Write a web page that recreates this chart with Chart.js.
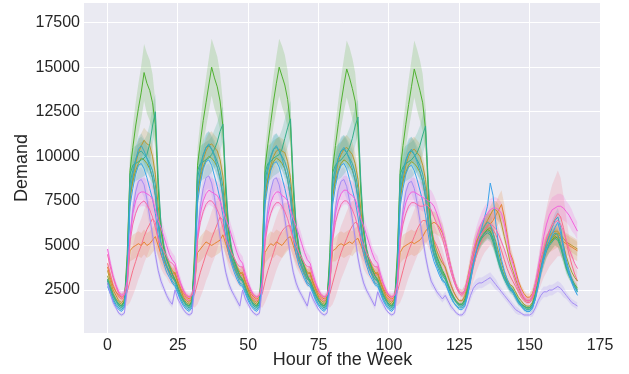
<!DOCTYPE html>
<html>
<head>
<meta charset="utf-8">
<script src="https://cdn.jsdelivr.net/npm/chart.js@4.4.1/dist/chart.umd.min.js"></script>
<style>
  html, body { margin: 0; padding: 0; background: #fff; }
  canvas { display: block; }
</style>
</head>
<body>
<canvas id="demandChart" width="629" height="374"></canvas>
<script>
// hour of week 0..167 (Mon 00h .. Sun 23h)
var hours = [];
for (var h = 0; h < 168; h++) hours.push(h);
var xTicks = [0, 25, 50, 75, 100, 125, 150, 175];
var yTicks = [2500, 5000, 7500, 10000, 12500, 15000, 17500];

// demand per zone, in hundreds, one row per day
var red = [
  40,34,28,24,21,20,21,24,30,36,41,46,50,55,59,62,65,63,53,45,41,38,35,33,
  34,29,25,22,20,19,20,23,29,35,40,45,49,54,58,62,66,64,54,46,41,38,35,32,
  34,29,25,22,20,19,20,23,30,36,41,46,51,55,58,60,61,61,53,46,42,38,35,32,
  33,29,25,22,20,19,20,23,29,35,41,46,50,54,58,61,63,62,53,45,41,38,35,33,
  34,29,25,22,20,19,20,24,30,36,42,47,51,55,59,62,64,64,60,56,53,50,46,42,
  37,32,28,24,21,19,19,21,25,31,38,44,49,53,56,58,60,59,56,52,47,42,37,33,
  30,27,24,21,19,18,18,20,25,32,40,47,53,58,62,65,68,66,60,52,45,39,34,30
];
var orange = [
  38,32,27,24,22,21,22,30,47,49,50,51,50,52,50,51,53,55,50,45,41,38,36,34,
  35,30,26,23,21,20,21,29,46,48,50,52,51,50,51,52,53,56,51,46,42,39,36,34,
  35,30,26,23,21,20,21,29,46,49,51,50,52,51,50,52,54,55,50,45,41,38,36,34,
  35,30,26,23,21,20,21,30,47,48,50,51,50,51,52,51,53,54,50,46,42,39,36,34,
  35,30,26,23,21,20,21,29,46,49,50,51,52,51,52,53,55,58,60,62,63,62,60,57,
  52,45,38,32,27,24,23,25,32,40,47,52,55,57,59,61,62,64,67,70,73,66,56,46,
  42,36,30,26,23,21,21,23,28,35,42,47,50,52,53,54,55,54,52,51,50,49,48,47
];
var olive = [
  36,30,25,22,19,18,20,38,75,88,96,102,106,109,107,106,100,90,72,58,49,43,39,36,
  34,29,25,21,19,18,20,39,77,90,98,103,106,107,105,103,98,89,71,57,48,42,38,35,
  34,29,25,21,19,18,20,38,76,88,95,100,103,104,103,102,97,88,71,57,48,42,38,35,
  34,29,25,21,19,18,20,38,76,89,97,101,104,105,103,101,96,87,70,57,48,42,38,35,
  34,29,25,21,19,18,20,38,75,87,95,100,103,104,102,100,95,87,72,60,52,47,43,40,
  38,33,28,24,21,19,19,22,28,36,44,50,55,58,61,64,67,70,70,68,62,55,48,41,
  36,31,27,23,20,19,19,21,27,34,41,47,52,55,57,58,58,56,54,52,51,50,49,48
];
var lime = [
  33,28,23,20,18,17,18,36,78,86,92,96,99,98,96,93,88,78,62,50,43,38,35,32,
  31,27,23,20,18,17,18,37,80,88,94,98,100,99,97,94,88,78,61,50,43,38,34,31,
  31,27,23,20,18,17,18,36,79,87,93,97,99,98,96,93,87,77,61,50,43,38,34,31,
  31,27,23,20,18,17,18,36,78,86,92,96,98,97,95,92,87,77,61,49,42,37,34,31,
  31,27,23,20,18,17,18,36,78,86,91,95,97,96,94,91,86,77,62,51,45,40,37,34,
  32,28,24,21,19,17,17,19,25,33,41,47,52,55,57,59,60,57,52,46,40,35,31,28,
  27,24,21,19,17,16,16,18,23,30,38,44,49,52,54,56,57,55,50,44,39,35,32,30
];
var green = [
  31,26,22,19,17,16,19,45,92,105,117,127,136,147,141,137,130,118,82,60,48,42,38,34,
  31,26,22,19,17,16,19,48,95,108,120,130,140,150,144,139,131,117,80,59,47,41,37,33,
  31,26,22,19,17,16,19,47,94,107,119,131,141,150,145,140,132,118,81,60,48,42,38,33,
  30,26,22,19,17,16,19,46,93,106,118,130,140,149,144,138,131,116,80,59,47,41,37,33,
  31,26,22,19,17,16,19,46,92,106,118,129,139,149,143,137,130,115,79,60,49,44,40,36,
  33,28,24,21,18,17,17,20,26,34,42,48,52,55,57,59,58,54,48,42,37,33,30,27,
  25,22,19,17,16,15,15,17,22,29,37,43,48,51,53,55,54,50,44,38,34,31,28,26
];
var seagreen = [
  30,26,22,19,17,16,18,40,90,95,96,97,98,99,101,107,117,125,88,62,50,43,38,34,
  30,26,22,19,17,16,18,42,92,96,97,98,99,101,104,108,114,118,86,61,49,42,37,33,
  30,26,22,19,17,16,18,41,91,96,97,99,100,101,104,110,116,121,87,61,49,42,37,33,
  29,25,22,19,17,16,18,41,91,95,97,98,100,102,105,110,117,122,86,60,48,41,36,33,
  30,26,22,19,17,16,18,40,90,94,96,97,98,100,102,106,112,117,84,60,49,43,39,35,
  32,28,24,21,18,17,17,19,25,33,41,47,51,54,56,57,56,52,46,40,35,31,28,26,
  24,21,19,17,16,15,15,17,22,29,36,42,47,50,52,54,53,49,43,37,33,30,27,25
];
var teal = [
  31,26,22,19,16,15,17,35,85,92,98,102,103,101,99,96,92,84,66,52,44,39,35,32,
  30,26,22,19,16,15,17,36,88,95,101,105,106,104,101,97,92,83,65,52,44,39,35,31,
  30,26,22,19,16,15,17,36,87,94,100,104,105,103,100,97,92,83,65,52,44,39,35,31,
  30,26,22,19,16,15,17,35,86,93,99,103,104,102,99,96,91,82,64,51,43,38,34,31,
  30,26,22,19,16,15,17,35,85,92,98,102,103,101,98,95,90,82,66,53,46,41,37,33,
  31,27,23,20,18,16,16,18,24,32,40,47,52,55,57,58,57,53,47,41,36,32,29,26,
  25,22,19,17,15,14,14,16,21,28,36,43,48,52,55,57,56,51,45,39,34,30,27,24
];
var cyan = [
  29,24,20,17,15,14,16,32,80,90,98,104,106,103,99,94,88,78,62,50,43,38,34,30,
  28,24,20,17,15,14,16,33,82,92,100,105,107,104,100,94,87,77,61,49,42,37,33,29,
  28,24,20,17,15,14,16,33,82,92,99,104,106,103,99,93,87,77,61,49,42,37,33,29,
  28,24,20,17,15,14,16,32,81,91,99,103,105,102,98,93,86,76,60,49,42,37,33,29,
  28,24,20,17,15,14,16,32,80,90,97,102,104,101,97,92,86,77,62,51,44,39,35,31,
  29,25,21,18,16,15,15,17,23,31,40,48,54,58,61,63,62,57,50,43,37,32,28,25,
  24,21,18,16,14,13,13,15,20,28,37,45,51,56,60,64,66,60,50,42,36,31,27,24
];
var blue = [
  27,23,19,16,14,13,15,30,72,82,90,95,96,93,88,82,76,68,56,46,40,35,32,29,
  27,23,19,16,14,13,15,31,74,85,93,97,98,95,89,83,76,67,55,46,40,35,31,28,
  27,23,19,16,14,13,15,31,73,84,92,96,97,94,88,82,75,67,55,45,39,35,31,28,
  27,23,19,16,14,13,15,30,73,83,91,95,96,93,87,81,75,66,54,45,39,34,31,28,
  27,23,19,16,14,13,15,30,72,82,90,94,95,92,87,81,75,67,56,47,41,37,33,30,
  29,25,21,18,16,14,14,16,22,30,39,47,54,60,66,72,85,78,62,50,42,36,31,27,
  24,21,18,16,14,13,13,15,20,27,35,42,48,52,56,60,63,57,48,40,34,29,25,22
];
var lavender = [
  29,23,18,15,12,11,12,25,55,70,80,86,87,84,76,66,56,45,36,30,26,22,19,17,
  25,20,17,14,12,11,12,26,57,72,82,88,89,85,77,66,55,44,35,29,25,22,19,16,
  25,20,17,14,12,11,12,26,56,71,81,87,88,84,76,65,55,44,35,29,25,22,19,16,
  24,20,17,14,12,11,12,25,56,71,81,86,87,83,75,65,54,43,35,29,25,22,19,16,
  24,20,17,14,12,11,12,25,55,70,80,85,86,82,74,64,54,44,36,30,27,24,22,20,
  22,19,16,14,12,11,11,13,17,22,26,28,29,29,30,31,32,30,28,26,24,22,20,18,
  16,14,13,12,11,11,11,12,15,19,22,24,24,25,25,26,27,26,24,22,20,18,17,16
];
var magenta = [
  48,40,33,28,24,22,23,30,55,68,75,79,80,80,79,78,76,70,64,60,55,50,45,42,
  40,34,29,25,22,21,22,29,54,68,75,79,81,80,79,78,75,70,65,61,56,51,46,42,
  40,34,29,25,22,21,22,29,54,67,74,78,80,80,78,77,75,70,65,61,56,51,46,42,
  40,34,29,25,22,21,22,29,55,68,75,79,81,81,79,78,76,71,65,61,56,51,46,42,
  40,34,29,25,22,21,22,29,54,67,74,78,80,80,79,78,77,76,75,74,72,68,63,58,
  52,45,38,32,27,24,23,25,31,39,47,54,59,63,66,68,70,71,71,70,68,62,54,45,
  40,34,28,24,21,19,19,22,28,37,46,55,62,67,70,71,72,72,71,69,67,64,61,58
];
var pink = [
  45,38,32,27,23,21,22,28,52,62,68,72,74,75,73,70,66,60,54,50,47,44,41,40,
  38,32,28,24,22,21,22,28,53,63,69,73,75,75,73,70,66,60,54,50,46,43,40,38,
  38,32,28,24,22,21,22,28,52,62,68,72,74,74,72,69,65,59,54,50,46,43,40,38,
  38,32,28,24,22,21,22,28,53,63,69,73,75,75,73,70,66,60,54,50,46,43,40,38,
  38,32,28,24,22,21,22,28,52,62,68,72,74,74,73,72,72,73,72,70,66,62,58,54,
  48,41,35,30,26,23,22,24,29,36,43,49,54,57,59,61,62,61,59,56,52,48,43,38,
  34,29,25,22,20,19,19,21,26,33,41,48,54,58,61,63,64,62,58,53,48,44,40,37
];

// half width of the confidence band, in hundreds
var redBand = [
  5,5,4,4,3,3,4,8,12,14,15,15,15,15,15,14,13,12,10,8,7,6,6,5,
  5,5,4,4,3,3,4,8,12,14,15,15,15,15,15,14,13,12,10,8,7,6,6,5,
  5,5,4,4,3,3,4,8,12,14,15,15,15,15,15,14,13,12,10,8,7,6,6,5,
  5,5,4,4,3,3,4,8,12,14,15,15,15,15,15,14,13,12,10,8,7,6,6,5,
  5,5,4,4,3,3,4,8,12,14,15,15,15,15,15,14,13,12,11,10,9,8,7,6,
  5,4,4,3,3,3,3,4,5,7,8,9,10,10,10,10,10,10,9,8,7,6,5,5,
  4,4,3,3,3,3,3,4,6,9,12,15,18,20,22,23,24,22,18,14,10,8,6,5
];
var orangeBand = [
  3,3,2,2,2,2,2,4,6,7,7,7,7,7,7,7,7,7,6,5,4,4,3,3,
  3,3,2,2,2,2,2,4,6,7,7,7,7,7,7,7,7,7,6,5,4,4,3,3,
  3,3,2,2,2,2,2,4,6,7,7,7,7,7,7,7,7,7,6,5,4,4,3,3,
  3,3,2,2,2,2,2,4,6,7,7,7,7,7,7,7,7,7,6,5,4,4,3,3,
  3,3,2,2,2,2,2,4,6,7,7,7,7,7,7,7,7,7,7,7,6,6,5,5,
  4,3,3,2,2,2,2,3,4,5,6,6,6,6,6,6,6,7,7,8,8,7,6,5,
  3,3,2,2,2,2,2,3,4,5,5,6,6,6,6,6,6,6,6,6,6,6,6,6
];
var oliveBand = [
  2,2,2,1,1,1,2,3,6,7,7,7,7,7,7,7,6,6,5,4,3,2,2,2,
  2,2,2,1,1,1,2,3,6,7,7,7,7,7,7,7,6,6,5,4,3,2,2,2,
  2,2,2,1,1,1,2,3,6,7,7,7,7,7,7,7,6,6,5,4,3,2,2,2,
  2,2,2,1,1,1,2,3,6,7,7,7,7,7,7,7,6,6,5,4,3,2,2,2,
  2,2,2,1,1,1,2,3,6,7,7,7,7,7,7,7,6,6,5,4,3,2,2,2,
  2,2,2,1,1,1,1,2,3,3,4,4,4,4,4,4,5,5,5,5,4,3,2,2,
  2,2,2,1,1,1,1,2,3,3,4,4,4,4,4,4,4,4,4,4,4,4,4,4
];
var greenBand = [
  2,2,2,2,1,1,2,5,10,12,13,14,15,16,17,17,16,13,8,5,4,3,3,2,
  2,2,2,2,1,1,2,5,10,12,13,14,15,16,17,17,16,13,8,5,4,3,3,2,
  2,2,2,2,1,1,2,5,10,12,13,14,15,16,17,17,16,13,8,5,4,3,3,2,
  2,2,2,2,1,1,2,5,10,12,13,14,15,16,17,17,16,13,8,5,4,3,3,2,
  2,2,2,2,1,1,2,5,10,12,13,14,15,16,17,17,16,13,8,5,4,3,3,2,
  2,2,2,2,1,1,1,2,3,4,4,5,5,5,5,5,5,5,4,3,3,2,2,2,
  2,2,2,2,1,1,1,2,3,4,4,5,5,5,5,5,5,5,4,3,3,2,2,2
];
var seaBand = [
  2,2,2,2,1,1,2,4,9,10,10,10,10,10,11,11,11,10,7,4,3,3,2,2,
  2,2,2,2,1,1,2,4,9,10,10,10,10,10,11,11,11,10,7,4,3,3,2,2,
  2,2,2,2,1,1,2,4,9,10,10,10,10,10,11,11,11,10,7,4,3,3,2,2,
  2,2,2,2,1,1,2,4,9,10,10,10,10,10,11,11,11,10,7,4,3,3,2,2,
  2,2,2,2,1,1,2,4,9,10,10,10,10,10,11,11,11,10,7,4,3,3,2,2,
  2,2,2,1,1,1,1,2,3,3,4,4,4,4,4,4,4,4,3,3,2,2,2,2,
  2,2,2,1,1,1,1,2,3,3,4,4,4,4,4,4,4,4,3,3,2,2,2,2
];
var tealBand = [
  2,2,2,1,1,1,2,3,7,8,8,8,8,8,8,8,7,7,5,4,3,2,2,2,
  2,2,2,1,1,1,2,3,7,8,8,8,8,8,8,8,7,7,5,4,3,2,2,2,
  2,2,2,1,1,1,2,3,7,8,8,8,8,8,8,8,7,7,5,4,3,2,2,2,
  2,2,2,1,1,1,2,3,7,8,8,8,8,8,8,8,7,7,5,4,3,2,2,2,
  2,2,2,1,1,1,2,3,7,8,8,8,8,8,8,8,7,7,5,4,3,2,2,2,
  2,2,2,1,1,1,1,2,3,3,4,4,4,4,4,4,4,4,3,3,2,2,2,2,
  2,2,2,1,1,1,1,2,3,3,4,4,4,4,4,4,4,4,3,3,2,2,2,2
];
var cyanBand = [
  2,2,2,1,1,1,1,3,6,7,7,7,7,7,7,6,6,5,4,3,2,2,2,2,
  2,2,2,1,1,1,1,3,6,7,7,7,7,7,7,6,6,5,4,3,2,2,2,2,
  2,2,2,1,1,1,1,3,6,7,7,7,7,7,7,6,6,5,4,3,2,2,2,2,
  2,2,2,1,1,1,1,3,6,7,7,7,7,7,7,6,6,5,4,3,2,2,2,2,
  2,2,2,1,1,1,1,3,6,7,7,7,7,7,7,6,6,5,4,3,2,2,2,2,
  2,2,2,1,1,1,1,2,2,3,3,4,4,4,5,5,6,6,5,4,3,2,2,2,
  2,2,2,1,1,1,1,2,2,3,3,4,4,4,4,4,5,5,4,3,3,2,2,2
];
var lavenderBand = [
  2,2,2,1,1,1,1,3,6,7,7,7,7,7,7,6,5,4,3,3,2,2,2,2,
  2,2,2,1,1,1,1,3,6,7,7,7,7,7,7,6,5,4,3,3,2,2,2,2,
  2,2,2,1,1,1,1,3,6,7,7,7,7,7,7,6,5,4,3,3,2,2,2,2,
  2,2,2,1,1,1,1,3,6,7,7,7,7,7,7,6,5,4,3,3,2,2,2,2,
  2,2,2,1,1,1,1,3,6,7,7,7,7,7,7,6,5,4,3,3,2,2,2,2,
  2,2,2,1,1,1,1,2,2,3,3,3,3,3,3,3,3,3,3,2,2,2,2,2,
  2,2,2,1,1,1,1,2,2,3,3,3,3,3,3,3,3,3,3,2,2,2,2,2
];
var magentaBand = [
  4,3,3,2,2,2,2,3,6,7,8,8,8,8,8,8,8,7,6,6,5,5,4,4,
  4,3,3,2,2,2,2,3,6,7,8,8,8,8,8,8,8,7,6,6,5,5,4,4,
  4,3,3,2,2,2,2,3,6,7,8,8,8,8,8,8,8,7,6,6,5,5,4,4,
  4,3,3,2,2,2,2,3,6,7,8,8,8,8,8,8,8,7,6,6,5,5,4,4,
  4,3,3,2,2,2,2,3,6,7,8,8,8,8,8,8,8,7,7,7,6,6,5,5,
  4,4,3,3,2,2,2,3,4,5,6,6,6,6,6,6,6,6,6,6,6,5,5,4,
  3,3,3,2,2,2,2,3,4,5,6,7,7,7,7,7,7,7,7,6,6,6,5,5
];

var zones = [
  { values: red, color: "#f77189", band: redBand },
  { values: orange, color: "#e68332", band: orangeBand },
  { values: olive, color: "#bb9832", band: oliveBand },
  { values: lime, color: "#97a431", band: null },
  { values: green, color: "#50b131", band: greenBand },
  { values: seagreen, color: "#34af8a", band: seaBand },
  { values: teal, color: "#36ada4", band: tealBand },
  { values: cyan, color: "#38a9c5", band: cyanBand },
  { values: blue, color: "#3ba3ec", band: null },
  { values: lavender, color: "#a48cf4", band: lavenderBand },
  { values: magenta, color: "#f461dd", band: magentaBand },
  { values: pink, color: "#f66bad", band: null }
];

function alpha(hex, a) {
  var r = parseInt(hex.slice(1, 3), 16), g = parseInt(hex.slice(3, 5), 16), b = parseInt(hex.slice(5, 7), 16);
  return "rgba(" + r + "," + g + "," + b + "," + a + ")";
}

var datasets = [];
zones.forEach(function (z) {
  if (!z.band) return;
  datasets.push({
    data: hours.map(function (h) { return { x: h, y: (z.values[h] + z.band[h]) * 100 }; }),
    borderWidth: 0, pointRadius: 0, fill: "+1", backgroundColor: alpha(z.color, 0.2), order: 100
  });
  datasets.push({
    data: hours.map(function (h) { return { x: h, y: (z.values[h] - z.band[h]) * 100 }; }),
    borderWidth: 0, pointRadius: 0, fill: false, order: 100
  });
});
zones.forEach(function (z, i) {
  datasets.push({
    data: hours.map(function (h) { return { x: h, y: z.values[h] * 100 }; }),
    borderColor: z.color, borderWidth: 1, pointRadius: 0, fill: false, order: zones.length - i
  });
});

var plotBackground = {
  id: "plotBackground",
  beforeDraw: function (chart) {
    var a = chart.chartArea, ctx = chart.ctx;
    ctx.save();
    ctx.fillStyle = "#eaeaf2";
    ctx.fillRect(a.left, a.top, a.right - a.left, a.bottom - a.top);
    ctx.restore();
  }
};

var tickFont = { family: "'Liberation Sans', Arial, sans-serif", size: 16 };
var titleFont = { family: "'Liberation Sans', Arial, sans-serif", size: 18 };

new Chart("demandChart", {
  type: "line",
  data: { datasets: datasets },
  options: {
    responsive: false,
    animation: false,
    devicePixelRatio: 1,
    layout: { padding: { top: 3, right: 28, left: 0, bottom: 0 } },
    plugins: { legend: { display: false }, tooltip: { enabled: false } },
    elements: { line: { tension: 0 } },
    scales: {
      x: {
        type: "linear",
        min: -8.35,
        max: 175.35,
        afterBuildTicks: function (s) { s.ticks = xTicks.map(function (v) { return { value: v }; }); },
        afterFit: function (s) { s.height = 41; s.paddingLeft = 0; s.paddingRight = 0; },
        grid: { color: "#ffffff", lineWidth: 1, drawTicks: false },
        border: { display: false },
        ticks: { font: tickFont, color: "#262626", padding: 3, maxRotation: 0, callback: function (v) { return String(v); } },
        title: { display: true, text: "Hour of the Week", font: titleFont, color: "#262626", padding: { top: 0, bottom: 3 } }
      },
      y: {
        min: 90,
        max: 18600,
        afterBuildTicks: function (s) { s.ticks = yTicks.map(function (v) { return { value: v }; }); },
        afterFit: function (s) { s.width = 84; s.paddingTop = 0; s.paddingBottom = 0; },
        grid: { color: "#ffffff", lineWidth: 1, drawTicks: false },
        border: { display: false },
        ticks: { font: tickFont, color: "#262626", padding: 4, callback: function (v) { return String(v); } },
        title: { display: true, text: "Demand", font: titleFont, color: "#262626", padding: { top: 11, bottom: 0 } }
      }
    }
  },
  plugins: [plotBackground]
});
</script>
</body>
</html>
